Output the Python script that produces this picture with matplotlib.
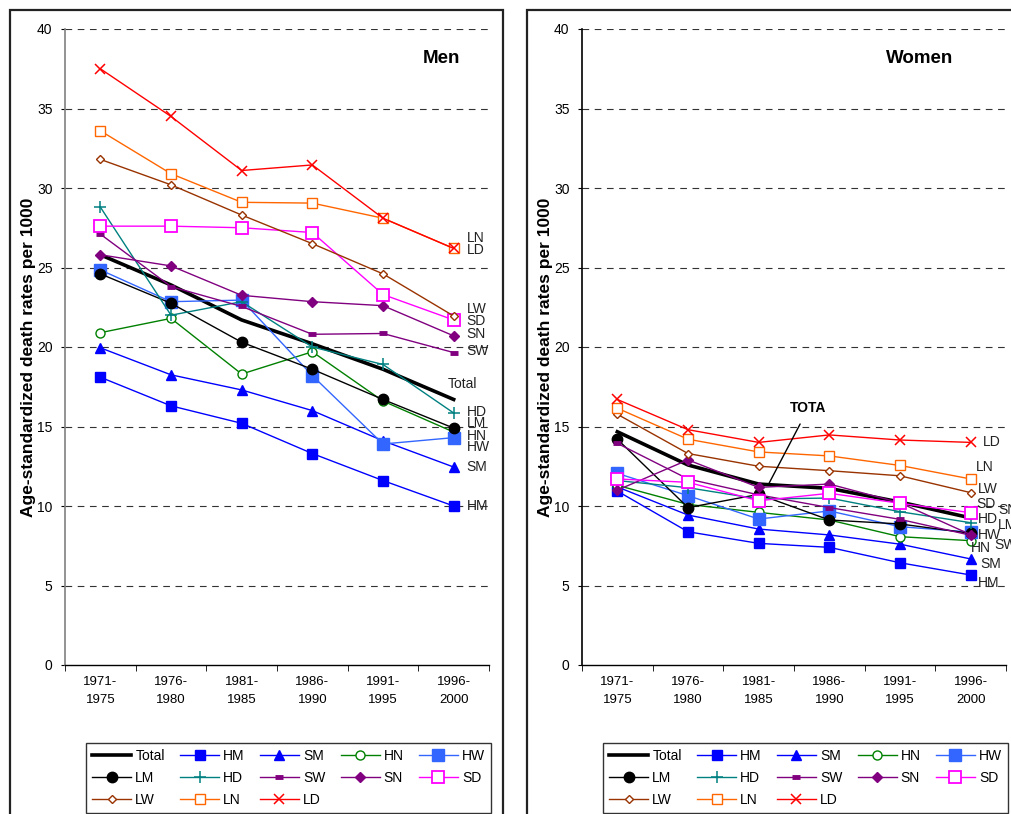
"""
age-standardized death rates by group, men vs women, 1971-2000
(two excel-style panels side by side)
"""
import numpy as np
import matplotlib
matplotlib.use("Agg")
import matplotlib.pyplot as plt
from matplotlib.patches import Rectangle

plt.rcParams["font.family"] = ["Liberation Sans", "DejaVu Sans"]

periods = ["1971-\n1975", "1976-\n1980", "1981-\n1985", "1986-\n1990", "1991-\n1995", "1996-\n2000"]

# men
men_total = [25.8, 23.9, 21.7, 20.2, 18.6, 16.7]
men_hm = [18.1, 16.3, 15.2, 13.3, 11.6, 10.0]
men_sm = [19.95, 18.25, 17.3, 16.0, 14.1, 12.45]
men_hn = [20.9, 21.8, 18.3, 19.7, 16.6, 14.65]
men_hw = [24.85, 22.85, 22.95, 18.2, 13.9, 14.3]
men_lm = [24.6, 22.75, 20.3, 18.6, 16.7, 14.9]
men_hd = [28.8, 22.0, 22.85, 20.0, 18.9, 15.85]
men_sw = [27.1, 23.8, 22.55, 20.8, 20.85, 19.65]
men_sn = [25.8, 25.1, 23.25, 22.85, 22.6, 20.7]
men_sd = [27.6, 27.6, 27.5, 27.2, 23.3, 21.7]
men_lw = [31.8, 30.2, 28.3, 26.5, 24.6, 21.95]
men_ln = [33.6, 30.9, 29.1, 29.05, 28.1, 26.2]
men_ld = [37.5, 34.5, 31.1, 31.45, 28.1, 26.2]

# women
women_total = [14.67, 12.58, 11.38, 11.11, 10.25, 9.25]
women_hm = [10.94, 8.38, 7.65, 7.4, 6.43, 5.66]
women_sm = [11.2, 9.43, 8.55, 8.18, 7.6, 6.67]
women_hn = [11.3, 10.1, 9.6, 9.12, 8.07, 7.82]
women_hw = [12.05, 10.65, 9.18, 9.69, 8.7, 8.36]
women_lm = [14.2, 9.9, 10.73, 9.12, 8.87, 8.28]
women_hd = [11.6, 11.15, 10.44, 10.5, 9.64, 8.95]
women_sw = [13.94, 11.7, 10.7, 9.9, 9.16, 8.16]
women_sn = [11.0, 12.9, 11.17, 11.38, 10.2, 8.2]
women_sd = [11.7, 11.49, 10.33, 10.8, 10.17, 9.58]
women_lw = [15.77, 13.3, 12.5, 12.22, 11.9, 10.84]
women_ln = [16.15, 14.2, 13.4, 13.15, 12.55, 11.7]
women_ld = [16.7, 14.8, 14.0, 14.47, 14.15, 14.0]

group_names = ["Total", "HM", "SM", "HN", "HW", "LM", "HD", "SW", "SN", "SD", "LW", "LN", "LD"]

# end labels (name, x, y) in data coords
men_end_labels = [("LN", 5.18, 26.85), ("LD", 5.18, 26.1), ("LW", 5.18, 22.4), ("SD", 5.18, 21.65),
                  ("SN", 5.18, 20.8), ("SW", 5.18, 19.75), ("Total", 4.92, 17.65), ("HD", 5.18, 15.9),
                  ("LM", 5.18, 15.2), ("HN", 5.18, 14.4), ("HW", 5.18, 13.7), ("SM", 5.18, 12.45),
                  ("HM", 5.18, 10.0)]
women_end_labels = [("LD", 5.17, 14.05), ("LN", 5.08, 12.45), ("LW", 5.1, 11.05), ("SD", 5.08, 10.1),
                    ("SN", 5.39, 9.75), ("HD", 5.1, 9.2), ("LM", 5.39, 8.8), ("HW", 5.1, 8.2),
                    ("SW", 5.34, 7.55), ("HN", 5.0, 7.35), ("SM", 5.13, 6.35), ("HM", 5.1, 5.15)]

# line styles per group
styles = {
  "Total": dict(color="black", lw=2.6, marker=None),
  "HM": dict(color="#0000ff", marker="s", ms=7, mfc="#0000ff"),
  "SM": dict(color="#0000ff", marker="^", ms=7.5, mfc="#0000ff"),
  "HN": dict(color="#008000", marker="o", ms=6.5, mfc="white"),
  "HW": dict(color="#3366ff", marker="s", ms=8, mfc="#3366ff"),
  "LM": dict(color="black", marker="o", ms=7.5, mfc="black"),
  "HD": dict(color="#008080", marker="+", ms=8, mew=1.1),
  "SW": dict(color="#800080", marker="_", ms=6, mew=3.5),
  "SN": dict(color="#800080", marker="D", ms=5.5, mfc="#800080"),
  "SD": dict(color="#ff00ff", marker="s", ms=8, mfc="white", mew=1.3),
  "LW": dict(color="#993300", marker="D", ms=4.5, mfc="white"),
  "LN": dict(color="#ff6600", marker="s", ms=7.5, mfc="white"),
  "LD": dict(color="#ff0000", marker="x", ms=7.5, mew=1.1),
}

W, H = 1012, 814
fig = plt.figure(figsize=(W / 100, H / 100), dpi=100)

# panel frames (they run off the bottom / right edge like the original)
for x0, x1 in [(10, 503), (527, 1040)]:
  fig.patches.append(Rectangle((x0 / W, -0.1), (x1 - x0) / W, (H - 10) / H + 0.1,
                               transform=fig.transFigure, fill=False,
                               ec="#222222", lw=1.6))


def draw_panel(left_px, series, title, title_x, end_labels, spine_color):
  ax = fig.add_axes([left_px / W, (H - 665) / H, 424 / W, 636 / H])
  x = np.arange(len(periods))
  handles = {}
  for name, vals in zip(group_names, series):
    st = dict(styles[name])
    lw = st.pop("lw", 1.0)
    handles[name], = ax.plot(x, vals, lw=lw, label=name, clip_on=False, **st)
  ax.set_xlim(-0.5, 5.5)
  ax.set_ylim(0, 40)
  ax.set_yticks(range(0, 41, 5))
  ax.set_xticks(x)
  ax.set_xticklabels(periods, linespacing=1.6)
  ax.set_xticks(np.arange(-0.5, 6, 1), minor=True)
  ax.tick_params(axis="x", which="major", length=0, pad=8, labelsize=9.5)
  ax.tick_params(axis="x", which="minor", length=4, direction="out")
  ax.tick_params(axis="y", length=3, direction="out", pad=6, labelsize=10)
  for s in ["top", "right"]:
    ax.spines[s].set_visible(False)
  ax.spines["left"].set_color(spine_color)
  ax.spines["left"].set_linewidth(1.2)
  ax.spines["bottom"].set_linewidth(1.0)
  for yv in range(5, 41, 5):
    ax.axhline(yv, color="#333333", lw=0.8, ls=(0, (6, 5)), zorder=0.5)
  ax.set_ylabel("Age-standardized death rates per 1000", fontsize=12.5, fontweight="bold")
  ax.yaxis.set_label_coords(-0.068, 0.484)
  ax.text(title_x, 0.954, title, transform=ax.transAxes, fontsize=13.5,
          fontweight="bold", ha="center", va="center")
  for lab, lx, ly in end_labels:
    ax.text(lx, ly, lab, fontsize=10, color="#222222", ha="left", va="center", clip_on=False)
  # legend, row-major order in 5 columns
  order = ["Total", "LM", "LW", "HM", "HD", "LN", "SM", "SW", "LD", "HN", "SN", "HW", "SD"]
  leg = fig.legend([handles[n] for n in order], order, ncol=5,
                   loc="upper left", bbox_to_anchor=((left_px + 21) / W, (H - 743) / H),
                   frameon=True, fancybox=False, edgecolor="black", fontsize=10,
                   handlelength=2.8, handletextpad=0.3, columnspacing=1.1,
                   labelspacing=0.55, borderpad=0.45, borderaxespad=0)
  leg.get_frame().set_linewidth(1.0)
  return ax


men_series = [men_total, men_hm, men_sm, men_hn, men_hw, men_lm, men_hd,
              men_sw, men_sn, men_sd, men_lw, men_ln, men_ld]
women_series = [women_total, women_hm, women_sm, women_hn, women_hw, women_lm, women_hd,
                women_sw, women_sn, women_sd, women_lw, women_ln, women_ld]

ax_men = draw_panel(65, men_series, "Men", 0.887, men_end_labels, "#808080")
ax_women = draw_panel(582, women_series, "Women", 0.796, women_end_labels, "black")

# the stray "TOTA" callout in the women panel
ax_women.annotate("TOTA", xy=(2.14, 11.37), xytext=(2.705, 16.16),
                  fontsize=10, fontweight="bold", ha="center", va="center",
                  arrowprops=dict(arrowstyle="-", color="black", lw=1.0, shrinkA=5, shrinkB=0))

fig.savefig("out.png", dpi=100)
